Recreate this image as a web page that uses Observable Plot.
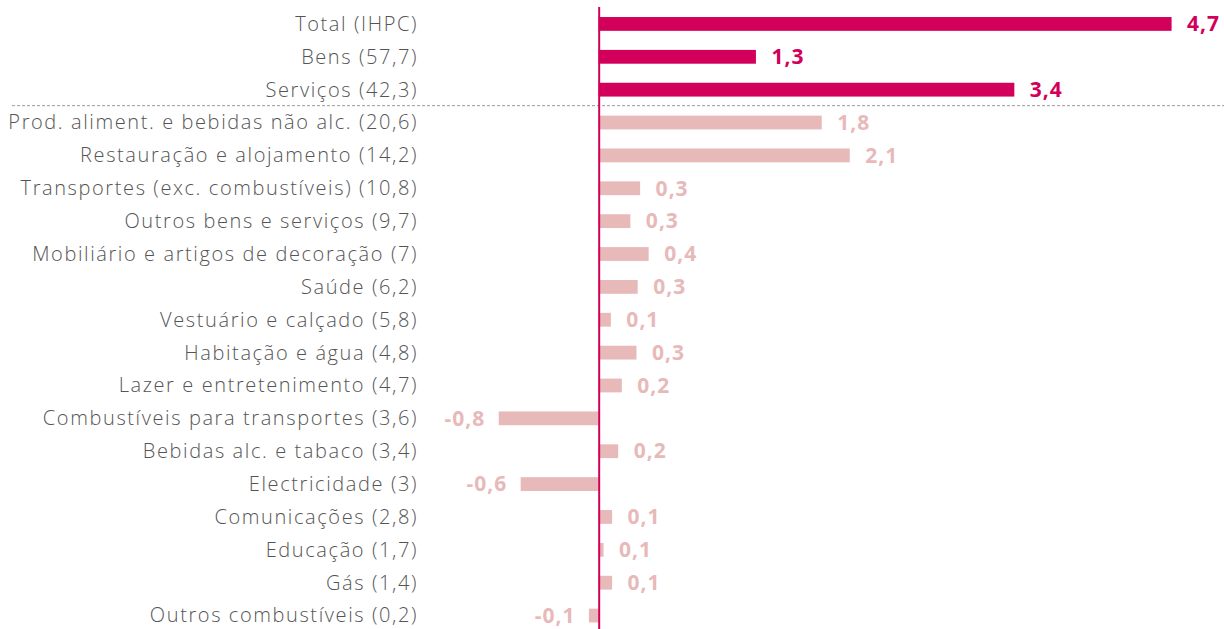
<!DOCTYPE html>
<html>
<head>
<meta charset="utf-8">
<script src="https://cdn.jsdelivr.net/npm/d3@7"></script>
<script src="https://cdn.jsdelivr.net/npm/@observablehq/plot@0.6"></script>
<style>
  html, body { margin: 0; padding: 0; background: #fff; }
  #chart svg { display: block; }
  #chart g[aria-label="y-axis tick label"] text { letter-spacing: 1.6px; }
  #chart g[aria-label="text"] text { letter-spacing: 1px; }
</style>
</head>
<body>
<div id="chart"></div>
<script>
const categories = [
  "Total (IHPC)",
  "Bens (57,7)",
  "Serviços (42,3)",
  "Prod. aliment. e bebidas não alc. (20,6)",
  "Restauração e alojamento (14,2)",
  "Transportes (exc. combustíveis) (10,8)",
  "Outros bens e serviços (9,7)",
  "Mobiliário e artigos de decoração (7)",
  "Saúde (6,2)",
  "Vestuário e calçado (5,8)",
  "Habitação e água (4,8)",
  "Lazer e entretenimento (4,7)",
  "Combustíveis para transportes (3,6)",
  "Bebidas alc. e tabaco (3,4)",
  "Electricidade (3)",
  "Comunicações (2,8)",
  "Educação (1,7)",
  "Gás (1,4)",
  "Outros combustíveis (0,2)"
];
const values = [4.7, 1.29, 3.41, 1.83, 2.06, 0.34, 0.26, 0.41, 0.32, 0.10, 0.31, 0.19, -0.82, 0.16, -0.64, 0.11, 0.04, 0.11, -0.08];
const valueLabels = ["4,7", "1,3", "3,4", "1,8", "2,1", "0,3", "0,3", "0,4", "0,3", "0,1", "0,3", "0,2", "-0,8", "0,2", "-0,6", "0,1", "0,1", "0,1", "-0,1"];
const groups = ["main", "main", "main", "sub", "sub", "sub", "sub", "sub", "sub", "sub", "sub", "sub", "sub", "sub", "sub", "sub", "sub", "sub", "sub"];

const data = categories.map((c, i) => ({cat: c, value: values[i], label: valueLabels[i], group: groups[i]}));

const MAGENTA = "#D2005A";
const LIGHT = "#E8B9B9";

const chart = Plot.plot({
  width: 1224,
  height: 629,
  marginLeft: 12,
  marginRight: 0,
  marginTop: 7,
  marginBottom: 0,
  style: {fontFamily: "'Open Sans', sans-serif", background: "#fff"},
  x: {domain: [-4.813, 5.13], axis: null},
  y: {domain: categories, range: [7.5, 632], paddingInner: 0.58, paddingOuter: 0.29, round: false, axis: null},
  color: {domain: ["main", "sub"], range: [MAGENTA, LIGHT]},
  marks: [
    Plot.ruleY([categories[2]], {y: d => d, dy: 15.5, stroke: "#9a9a9a", strokeWidth: 1, strokeDasharray: "3,2"}),
    Plot.barX(data, {x: "value", y: "cat", fill: "group"}),
    Plot.ruleX([0], {stroke: MAGENTA, strokeWidth: 2}),
    Plot.text(data.filter(d => d.value >= 0), {x: "value", y: "cat", text: "label", fill: "group", textAnchor: "start", dx: 15, fontSize: 21, fontWeight: 700}),
    Plot.text(data.filter(d => d.value < 0), {x: "value", y: "cat", text: "label", fill: "group", textAnchor: "end", dx: -14, fontSize: 21, fontWeight: 700}),
    Plot.axisY({anchor: "left", tickSize: 0, tickPadding: 0, dx: 405.5, fontSize: 20, fontWeight: 300, fill: "#555", label: null})
  ]
});
document.getElementById("chart").appendChild(chart);
</script>
</body>
</html>
